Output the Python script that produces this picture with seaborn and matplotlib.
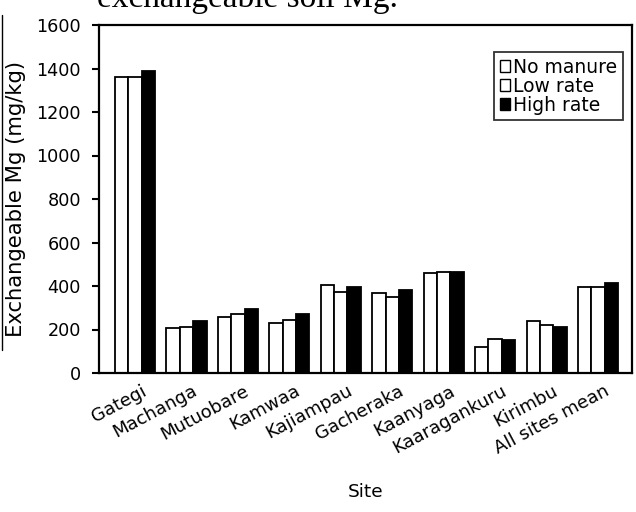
import matplotlib
matplotlib.use("Agg")
import matplotlib.pyplot as plt
import matplotlib.transforms as mtransforms
from matplotlib.lines import Line2D
from matplotlib.patches import Patch
import seaborn as sns
import pandas as pd

sites = ["Gategi", "Machanga", "Mutuobare", "Kamwaa", "Kajiampau", "Gacheraka",
         "Kaanyaga", "Kaaragankuru", "Kirimbu", "All sites mean"]
treatments = ["No manure", "Low rate", "High rate"]
no_manure = [1362, 205, 256, 228, 404, 366, 461, 118, 240, 397]
low_rate = [1360, 210, 271, 244, 374, 351, 466, 158, 219, 397]
high_rate = [1388, 240, 293, 271, 397, 382, 463, 152, 210, 415]

df = pd.DataFrame({
    "Site": sites * 3,
    "Treatment": [treatments[0]] * 10 + [treatments[1]] * 10 + [treatments[2]] * 10,
    "Mg": no_manure + low_rate + high_rate,
})

sns.set_theme(style="white", rc={"text.color": "black", "axes.labelcolor": "black",
                                 "xtick.color": "black", "ytick.color": "black"})
plt.rcParams["font.family"] = ["DejaVu Sans"]

fig = plt.figure(figsize=(6.36, 5.12), dpi=100)
ax = fig.add_axes([99 / 636, 1 - 373 / 512, 533 / 636, 348 / 512])

colors = {"No manure": "white", "Low rate": "white", "High rate": "black"}
sns.barplot(data=df, x="Site", y="Mg", hue="Treatment", hue_order=treatments,
            palette=colors, edgecolor="black", linewidth=1.3, width=0.78,
            saturation=1, errorbar=None, ax=ax, legend=False)

ax.set_xlim(-0.70, 9.66)
ax.set_ylim(0, 1600)
ax.set_yticks(range(0, 1601, 200))
ax.tick_params(axis="y", labelsize=12.7, length=5, width=1.5, direction="out",
               left=True, pad=8)
ax.tick_params(axis="x", labelsize=13, length=0, pad=12)
shift = mtransforms.ScaledTranslation(0.10, 0, fig.dpi_scale_trans)
for lbl in ax.get_xticklabels():
    lbl.set_rotation(28)
    lbl.set_ha("right")
    lbl.set_va("center")
    lbl.set_rotation_mode("anchor")
    lbl.set_transform(lbl.get_transform() + shift)
for s in ax.spines.values():
    s.set_color("black")
    s.set_linewidth(1.6)

ax.set_xlabel("Site", fontsize=13.3)
ax.xaxis.set_label_coords(0.5, -0.315)
ax.set_ylabel("Exchangeable Mg (mg/kg)", fontsize=15.2)
ax.yaxis.set_label_coords(-0.137, 0.5)

handles = [Patch(facecolor=colors[t], edgecolor="black", linewidth=1.0) for t in treatments]
leg = ax.legend(handles, treatments, loc="upper right", bbox_to_anchor=(0.983, 0.922),
                fontsize=13.5, frameon=True, fancybox=False, handlelength=0.55,
                handleheight=0.6, handletextpad=0.15, borderpad=0.3, labelspacing=0.0,
                borderaxespad=0)
leg.get_frame().set_edgecolor("black")
leg.get_frame().set_linewidth(1.3)
for t in leg.get_texts():
    t.set_color("black")

# caption line running above the panel
fig.text(97 / 636, 1 - 7 / 512, "exchangeable soil Mg.", fontsize=24,
         family="Liberation Serif", va="baseline", ha="left", color="black")

# page margin rule at the far left
fig.add_artist(Line2D([1.5 / 636, 1.5 / 636], [1 - 15 / 512, 1 - 350 / 512],
                      transform=fig.transFigure, color="black", linewidth=1.0))

fig.savefig("out.png", dpi=100, facecolor="white")
